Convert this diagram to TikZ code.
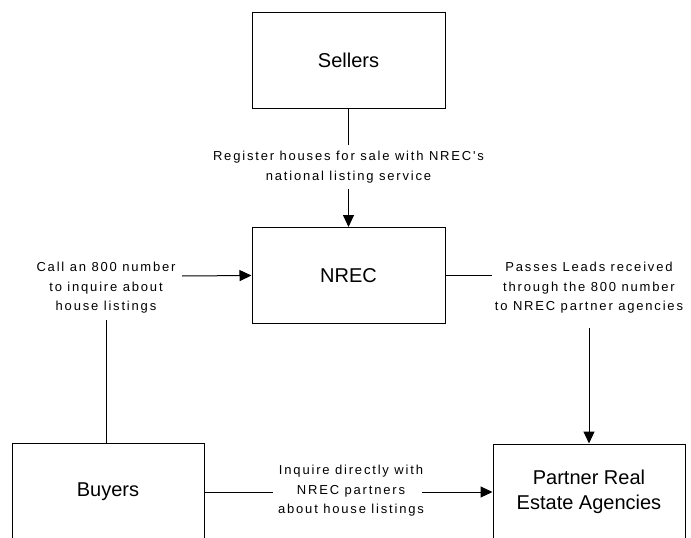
\documentclass[tikz,border=0pt]{standalone}
\usepackage{fontspec}
\setmainfont{Liberation Sans}
\newfontfamily\lblfont[LetterSpace=14]{Liberation Sans}
\usetikzlibrary{arrows.meta}
\begin{document}
\begin{tikzpicture}[x=1pt,y=-1pt,
  entity/.style={draw,line width=1pt,minimum width=193pt,minimum height=96pt,
    inner sep=0pt,align=center,font=\fontsize{20}{25}\selectfont},
  flowlbl/.style={align=center,inner sep=6pt,font=\lblfont\fontsize{13}{19.5}\selectfont},
  link/.style={line width=1pt},
  flow/.style={link,-{Triangle[length=12pt,width=11pt]}}]
\useasboundingbox (0,0) rectangle (691,538);
\clip (0,0) rectangle (691,538);

% parties
\node[entity] (sellers) at (348.5,60) {Sellers};
\node[entity] (nrec) at (348.5,275.5) {NREC};
\node[entity,minimum width=192pt,minimum height=98pt] (buyers) at (108,492) {Buyers};
\node[entity,minimum width=192pt] (partner) at (589,492) {Partner Real\\Estate Agencies};

% flow descriptions
\node[flowlbl] (reglbl) at (348.5,167) {Register houses for sale with NREC's\\national listing service};
\node[flowlbl] (calllbl) at (106,288) {Call an 800 number\\to inquire about\\house listings};
\node[flowlbl] (passlbl) at (589,288) {Passes Leads received\\through the 800 number\\to NREC partner agencies};
\node[flowlbl] (inqlbl) at (351,491) {Inquire directly with\\NREC partners\\about house listings};

% free ends of the connectors
\coordinate (callend) at (182,276);
\coordinate (passstart) at (492,275.5);
\coordinate (passdrop) at (589,328);
\coordinate (inqstart) at (273,492);
\coordinate (inqend) at (422,492);

% connectors
\draw[link] (sellers.south) -- (reglbl.north);
\draw[flow] (reglbl.south) -- (nrec.north);
\draw[link] (calllbl.south) -- (calllbl.south |- buyers.north);
\draw[flow] (callend) -- (nrec.west);
\draw[link] (nrec.east) -- (passstart);
\draw[flow] (passdrop) -- (partner.north);
\draw[link] (buyers.east) -- (inqstart);
\draw[flow] (inqend) -- (partner.west);
\end{tikzpicture}
\end{document}
